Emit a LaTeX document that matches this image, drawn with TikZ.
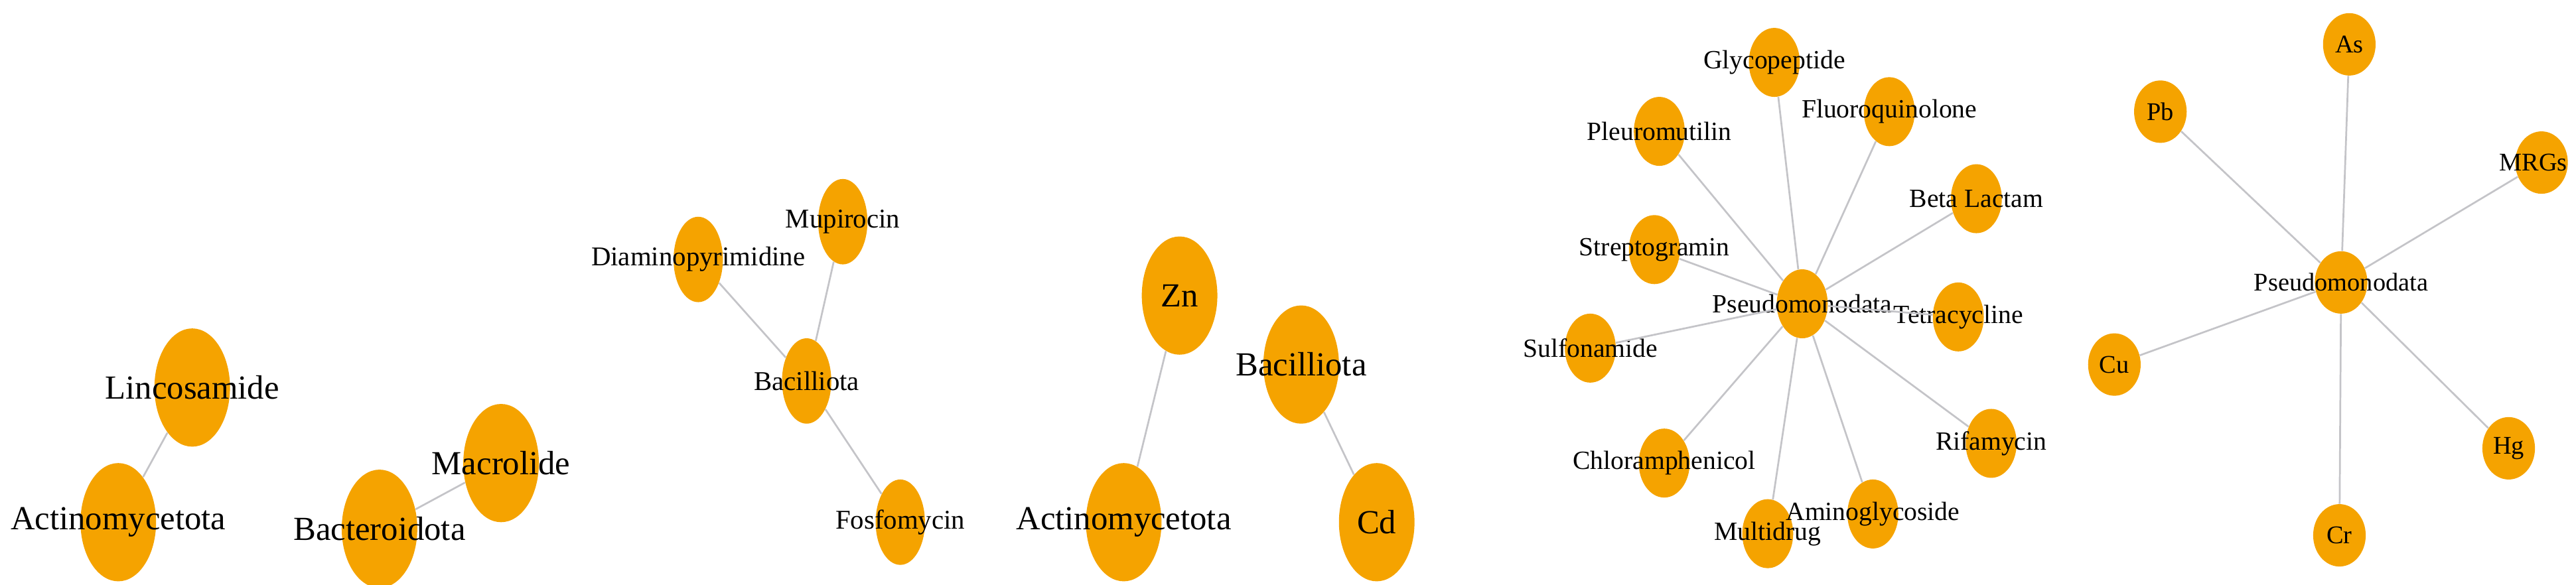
\documentclass[tikz,border=0pt]{standalone}
\usepackage{fontspec}
\setmainfont{Liberation Serif}
\usetikzlibrary{shapes.geometric}
\definecolor{nodeor}{HTML}{F5A300}
\definecolor{edgegr}{HTML}{C4C4C8}
\tikzset{
  nd/.style={ellipse,fill=nodeor,draw=none,inner sep=0pt},
  big/.style={nd,minimum width=46pt,minimum height=72pt},
  mid/.style={nd,minimum width=30pt,minimum height=52pt},
  sml/.style={nd,minimum width=31pt,minimum height=42pt},
  tin/.style={nd,minimum width=32pt,minimum height=38pt},
  bl/.style={font=\fontsize{20.5}{21}\selectfont},
  ml/.style={font=\fontsize{16.5}{17}\selectfont},
  sl/.style={font=\fontsize{16}{16}\selectfont},
  tl/.style={font=\fontsize{15.5}{16}\selectfont},
  ed/.style={draw=edgegr,line width=1.1pt}
}
\begin{document}
\begin{tikzpicture}[x=1pt,y=-1pt]
\useasboundingbox (0,0) rectangle (1568,356);
% group 1
\node[big,label={[bl]center:Lincosamide}] (lin) at (117,236) {};
\node[big,label={[bl]center:Actinomycetota}] (act1) at (72,318) {};
% group 2
\node[big,label={[bl]center:Macrolide}] (mac) at (305,282) {};
\node[big,label={[bl]center:Bacteroidota}] (bac) at (231,322) {};
% group 3
\node[mid,label={[ml]center:Diaminopyrimidine}] (dia) at (425,158) {};
\node[mid,label={[ml]center:Mupirocin}] (mup) at (513,135) {};
\node[mid,label={[ml]center:Bacilliota}] (bci) at (491,232) {};
\node[mid,label={[ml]center:Fosfomycin}] (fos) at (548,318) {};
% group 4
\node[big,label={[bl]center:Zn}] (zn) at (718,180) {};
\node[big,label={[bl]center:Actinomycetota}] (act2) at (684,318) {};
% group 5
\node[big,label={[bl]center:Bacilliota}] (bci2) at (792,222) {};
\node[big,label={[bl]center:Cd}] (cd) at (838,318) {};
% group 6
\node[sml,label={[sl]center:Pseudomonodata}] (ps) at (1097,185) {};
\node[sml,label={[sl]center:Glycopeptide}] (gly) at (1080,38) {};
\node[sml,label={[sl]center:Pleuromutilin}] (ple) at (1010,80) {};
\node[sml,label={[sl]center:Fluoroquinolone}] (flu) at (1150,68) {};
\node[sml,label={[sl]center:Beta Lactam}] (bet) at (1203,121) {};
\node[sml,label={[sl]center:Streptogramin}] (str) at (1007,152) {};
\node[sml,label={[sl]center:Tetracycline}] (tet) at (1192,193) {};
\node[sml,label={[sl]center:Sulfonamide}] (sul) at (968,212) {};
\node[sml,label={[sl]center:Rifamycin}] (rif) at (1212,270) {};
\node[sml,label={[sl]center:Chloramphenicol}] (chl) at (1013,282) {};
\node[sml,label={[sl]center:Multidrug}] (mul) at (1076,325) {};
\node[sml,label={[sl]center:Aminoglycoside}] (ami) at (1140,313) {};
% group 7
\node[tin,label={[tl]center:Pseudomonodata}] (ps2) at (1425,172) {};
\node[tin,label={[tl]center:As}] (as) at (1430,27) {};
\node[tin,label={[tl]center:Pb}] (pb) at (1315,68) {};
\node[tin,label={[tl,xshift=-5pt]center:MRGs}] (mrg) at (1547,99) {};
\node[tin,label={[tl]center:Cu}] (cu) at (1287,222) {};
\node[tin,label={[tl]center:Hg}] (hg) at (1527,273) {};
\node[tin,label={[tl]center:Cr}] (cr) at (1424,326) {};
% edges
\draw[ed] (lin) -- (act1);
\draw[ed] (mac) -- (bac);
\draw[ed] (dia) -- (bci);
\draw[ed] (mup) -- (bci);
\draw[ed] (bci) -- (fos);
\draw[ed] (zn) -- (act2);
\draw[ed] (bci2) -- (cd);
\foreach \t in {gly,ple,flu,bet,str,tet,sul,rif,chl,mul,ami} \draw[ed] (ps) -- (\t);
\foreach \t in {as,pb,mrg,cu,hg,cr} \draw[ed] (ps2) -- (\t);
\end{tikzpicture}
\end{document}
